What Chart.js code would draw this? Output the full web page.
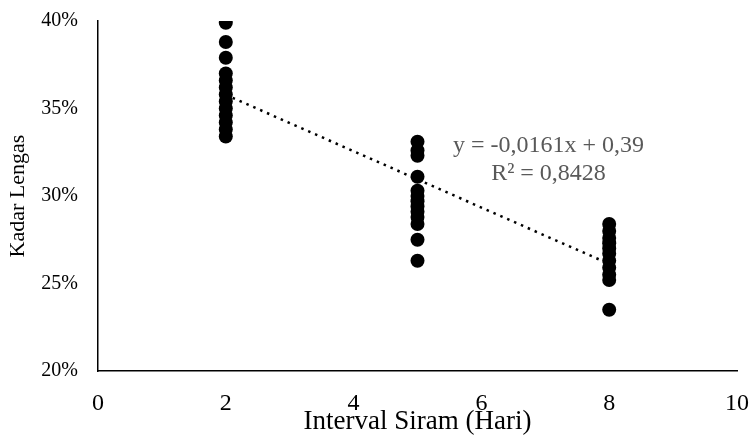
<!DOCTYPE html>
<html>
<head>
<meta charset="utf-8">
<script src="https://cdn.jsdelivr.net/npm/chart.js@4.4.1/dist/chart.umd.min.js"></script>
<style>
html,body{margin:0;padding:0;background:#fff}
#wrap{width:751px;height:439px;position:relative}
</style>
</head>
<body>
<div id="wrap"><canvas id="c"></canvas></div>
<script>
// Interval siram (hari) dan kadar lengas tiap pengamatan
const X_VALUES=[2,5,8];
const Y_AT_2=[0.399,0.388,0.379,0.370,0.366,0.362,0.358,0.354,0.350,0.346,0.342,0.338,0.334];
const Y_AT_5=[0.331,0.326,0.323,0.311,0.303,0.300,0.297,0.294,0.291,0.288,0.284,0.275,0.263];
const Y_AT_8=[0.284,0.280,0.276,0.273,0.270,0.267,0.263,0.259,0.255,0.252,0.235];
// garis tren (titik awal dan akhir)
const TREND_X=[2,8];
const TREND_Y=[0.3578,0.2612];
const EQ_LINES=['y = -0,0161x + 0,39','R² = 0,8428'];
const Y_TICKS=[0.20,0.25,0.30,0.35,0.40];

const pts=[];
[Y_AT_2,Y_AT_5,Y_AT_8].forEach((arr,i)=>arr.forEach(v=>pts.push({x:X_VALUES[i],y:v})));
const trend=TREND_X.map((x,i)=>({x,y:TREND_Y[i]}));

const SERIF="'Liberation Serif','Times New Roman',serif";

const eqPlugin={
  id:'eq',
  afterDatasetsDraw(chart){
    const {ctx,scales:{x,y}}=chart;
    const cx=x.getPixelForValue(7.05), y0=y.getPixelForValue(0.329);
    ctx.save();
    ctx.fillStyle='#595959';
    ctx.font='24px '+SERIF;
    ctx.textAlign='center';ctx.textBaseline='middle';
    EQ_LINES.forEach((t,i)=>ctx.fillText(t,cx,y0+i*28));
    ctx.restore();
  }
};

new Chart(document.getElementById('c'),{
  type:'scatter',
  data:{datasets:[
    {data:pts,backgroundColor:'#000',borderWidth:0,pointRadius:7,pointHoverRadius:7,order:0},
    {type:'line',data:trend,borderColor:'#000',borderWidth:2.5,borderDash:[2.5,5],pointRadius:0,fill:false,order:1}
  ]},
  options:{
    responsive:true,maintainAspectRatio:false,animation:false,
    layout:{padding:{top:21,right:14,left:0,bottom:0}},
    plugins:{legend:{display:false},tooltip:{enabled:false}},
    scales:{
      x:{type:'linear',min:0,max:10,
        ticks:{stepSize:2,padding:18,color:'#000',font:{family:SERIF,size:24}},
        grid:{display:false,drawTicks:false},
        border:{display:true,color:'#000',width:1.5},
        title:{display:true,text:'Interval Siram (Hari)',color:'#000',font:{family:SERIF,size:27},padding:{top:0,bottom:1}},
        afterFit:s=>{s.height=68;s.paddingLeft=0;s.paddingRight=0}
      },
      y:{type:'linear',min:0.2,max:0.4,
        afterBuildTicks:s=>{s.ticks=Y_TICKS.map(v=>({value:v}))},
        ticks:{padding:20,color:'#000',font:{family:SERIF,size:20},callback:v=>Math.round(v*100)+'%'},
        grid:{display:false,drawTicks:false},
        border:{display:true,color:'#000',width:1.5},
        title:{display:true,text:'Kadar Lengas',color:'#000',font:{family:SERIF,size:22},padding:{top:5,bottom:0}},
        afterFit:s=>{s.width=98;s.paddingTop=0;s.paddingBottom=0}
      }
    }
  },
  plugins:[eqPlugin]
});
</script>
</body>
</html>
